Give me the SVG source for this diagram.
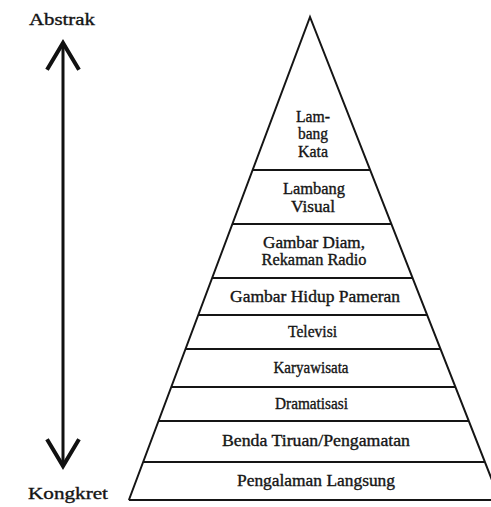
<svg xmlns="http://www.w3.org/2000/svg" width="491" height="507" viewBox="0 0 491 507">
<style>
  .t { font-family: "Liberation Serif", "Times New Roman", serif; font-size: 16px; fill: #151515; stroke: #151515; stroke-width: 0.35; text-anchor: middle; }
  .s { font-family: "Liberation Serif", "Times New Roman", serif; font-size: 16.5px; fill: #151515; stroke: #151515; stroke-width: 0.35; }
  .edge { stroke: #151515; stroke-width: 2; fill: none; stroke-linejoin: miter; }
  .div { stroke: #151515; stroke-width: 2; }
  .arrow { stroke: #111; stroke-width: 3; fill: none; }
</style>
<defs>
  <marker id="chev" markerUnits="userSpaceOnUse" markerWidth="40" markerHeight="40" viewBox="-25 -15 30 30" refX="0" refY="0" orient="auto-start-reverse" overflow="visible">
    <path d="M-20,-12 L0,0 L-20,12" fill="none" stroke="#111" stroke-width="3" stroke-linejoin="miter"/>
  </marker>
</defs>
<rect width="491" height="507" fill="#ffffff"/>

<g id="labels">
  <text class="s" x="29" y="25" textLength="66" lengthAdjust="spacingAndGlyphs">Abstrak</text>
  <text class="s" x="28" y="499" textLength="80" lengthAdjust="spacingAndGlyphs">Kongkret</text>
</g>

<g id="connectors">
  <line class="arrow" x1="63" y1="466" x2="63" y2="43" marker-start="url(#chev)" marker-end="url(#chev)"/>
</g>

<g id="pyramid">
  <polyline class="edge" points="128.9,500 310,17 499.8,500"/>
  <line class="div" x1="128.9" y1="500" x2="491" y2="500"/>
</g>

<g id="tier-lambang-kata">
  <text class="t" x="313" y="122" textLength="34" lengthAdjust="spacingAndGlyphs">Lam-</text>
  <text class="t" x="313" y="139" textLength="30" lengthAdjust="spacingAndGlyphs">bang</text>
  <text class="t" x="313" y="157" textLength="30" lengthAdjust="spacingAndGlyphs">Kata</text>
</g>
<g id="tier-lambang-visual">
  <line class="div" x1="252.6" y1="170" x2="370.1" y2="170"/>
  <text class="t" x="314" y="194" textLength="62" lengthAdjust="spacingAndGlyphs">Lambang</text>
  <text class="t" x="313" y="212" textLength="44" lengthAdjust="spacingAndGlyphs">Visual</text>
</g>
<g id="tier-gambar-diam">
  <line class="div" x1="232.4" y1="224" x2="391.4" y2="224"/>
  <text class="t" x="314" y="248" textLength="102" lengthAdjust="spacingAndGlyphs">Gambar Diam,</text>
  <text class="t" x="314" y="265" textLength="105" lengthAdjust="spacingAndGlyphs">Rekaman Radio</text>
</g>
<g id="tier-gambar-hidup">
  <line class="div" x1="212.1" y1="278" x2="412.6" y2="278"/>
  <text class="t" x="315" y="302" textLength="170" lengthAdjust="spacingAndGlyphs">Gambar Hidup Pameran</text>
</g>
<g id="tier-televisi">
  <line class="div" x1="198.3" y1="315" x2="427.1" y2="315"/>
  <text class="t" x="312.5" y="337" textLength="49" lengthAdjust="spacingAndGlyphs">Televisi</text>
</g>
<g id="tier-karyawisata">
  <line class="div" x1="185.5" y1="349" x2="440.5" y2="349"/>
  <text class="t" x="311" y="373" textLength="75" lengthAdjust="spacingAndGlyphs">Karyawisata</text>
</g>
<g id="tier-dramatisasi">
  <line class="div" x1="171.3" y1="387" x2="455.4" y2="387"/>
  <text class="t" x="311.5" y="409" textLength="73" lengthAdjust="spacingAndGlyphs">Dramatisasi</text>
</g>
<g id="tier-benda-tiruan">
  <line class="div" x1="158.5" y1="421" x2="468.8" y2="421"/>
  <text class="t" x="316" y="446" textLength="188" lengthAdjust="spacingAndGlyphs">Benda Tiruan/Pengamatan</text>
</g>
<g id="tier-pengalaman-langsung">
  <line class="div" x1="143.1" y1="462" x2="484.9" y2="462"/>
  <text class="t" x="316" y="486" textLength="158" lengthAdjust="spacingAndGlyphs">Pengalaman Langsung</text>
</g>
</svg>
